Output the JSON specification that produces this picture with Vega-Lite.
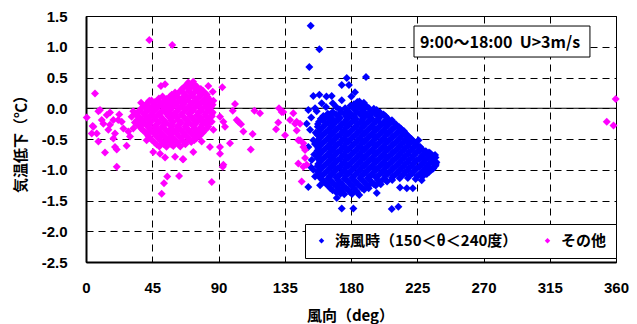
{
"$schema": "https://vega.github.io/schema/vega-lite/v6.json",
"width": 530, "height": 246,
"autosize": "none",
"padding": {"left": 86, "top": 16, "right": 21, "bottom": 62},
"background": "white",
"config": {
 "view": {"stroke": "#000", "strokeWidth": 1},
 "axis": {"grid": true, "gridColor": "#000", "gridDash": [7,5], "gridWidth": 1, "gridOpacity": 1, "ticks": false, "tickSize": 0, "domain": true, "domainColor": "#000", "domainWidth": 2, "labelFont": "Liberation Sans", "labelFontWeight": "bold", "labelFontSize": 15, "labelColor": "#000", "labelFlush": false, "labelOverlap": false, "titleFont": "Noto Sans CJK JP", "titleFontWeight": "bold", "titleFontSize": 15, "titleColor": "#000"},
 "axisX": {"labelPadding": 18, "titleX": 264, "titleY": 53, "titleBaseline": "middle", "titleAlign": "center", "tickCount": 20},
 "axisY": {"labelPadding": 19, "titleX": -66, "titleY": 124, "titleBaseline": "middle", "titleAlign": "center", "titleAngle": -90, "tickCount": 20}
},
"datasets": {
"sea": [
{"d":184.3,"t":0.10},{"d":188.7,"t":0.09},
{"d":179.6,"t":0.04},{"d":185.1,"t":0.03},{"d":190.4,"t":0.035},
{"d":172.5,"t":-0.02},{"d":177.8,"t":-0.035},{"d":182.9,"t":-0.03},{"d":188.3,"t":-0.02},{"d":193.6,"t":-0.04},{"d":197.4,"t":-0.03},
{"d":164.2,"t":-0.09},{"d":169.8,"t":-0.10},{"d":175.3,"t":-0.085},{"d":180.4,"t":-0.10},{"d":185.9,"t":-0.09},{"d":191.2,"t":-0.105},{"d":196.6,"t":-0.095},{"d":202.1,"t":-0.10},
{"d":159.5,"t":-0.17},{"d":162.9,"t":-0.15},{"d":167.2,"t":-0.165},{"d":172.6,"t":-0.155},{"d":178.1,"t":-0.16},{"d":183.4,"t":-0.17},{"d":188.8,"t":-0.155},{"d":194.0,"t":-0.165},{"d":199.5,"t":-0.15},{"d":204.9,"t":-0.165},
{"d":158.3,"t":-0.22},{"d":164.5,"t":-0.23},{"d":169.9,"t":-0.215},{"d":175.2,"t":-0.235},{"d":180.7,"t":-0.22},{"d":186.1,"t":-0.23},{"d":191.5,"t":-0.225},{"d":196.9,"t":-0.215},{"d":202.2,"t":-0.235},{"d":207.6,"t":-0.22},
{"d":157.4,"t":-0.30},{"d":161.9,"t":-0.285},{"d":167.3,"t":-0.29},{"d":172.6,"t":-0.30},{"d":178.0,"t":-0.28},{"d":183.5,"t":-0.295},{"d":188.8,"t":-0.285},{"d":194.3,"t":-0.30},{"d":199.7,"t":-0.29},{"d":205.0,"t":-0.28},{"d":210.4,"t":-0.295},{"d":212.8,"t":-0.31},
{"d":159.1,"t":-0.35},{"d":164.6,"t":-0.36},{"d":170.0,"t":-0.345},{"d":175.3,"t":-0.365},{"d":180.8,"t":-0.35},{"d":186.1,"t":-0.36},{"d":191.6,"t":-0.355},{"d":196.9,"t":-0.345},{"d":202.4,"t":-0.36},{"d":207.7,"t":-0.35},{"d":213.1,"t":-0.365},{"d":215.9,"t":-0.37},
{"d":157.2,"t":-0.43},{"d":161.8,"t":-0.415},{"d":167.2,"t":-0.42},{"d":172.7,"t":-0.43},{"d":178.0,"t":-0.41},{"d":183.4,"t":-0.425},{"d":188.9,"t":-0.415},{"d":194.2,"t":-0.43},{"d":199.6,"t":-0.42},{"d":205.1,"t":-0.41},{"d":210.4,"t":-0.425},{"d":215.8,"t":-0.42},{"d":218.2,"t":-0.44},
{"d":159.0,"t":-0.48},{"d":164.5,"t":-0.49},{"d":169.9,"t":-0.475},{"d":175.4,"t":-0.495},{"d":180.7,"t":-0.48},{"d":186.2,"t":-0.49},{"d":191.5,"t":-0.485},{"d":196.9,"t":-0.475},{"d":202.3,"t":-0.495},{"d":207.8,"t":-0.48},{"d":213.1,"t":-0.49},{"d":218.5,"t":-0.485},{"d":221.0,"t":-0.50},
{"d":157.3,"t":-0.555},{"d":161.8,"t":-0.545},{"d":167.3,"t":-0.55},{"d":172.6,"t":-0.56},{"d":178.1,"t":-0.54},{"d":183.4,"t":-0.555},{"d":188.9,"t":-0.545},{"d":194.2,"t":-0.56},{"d":199.7,"t":-0.55},{"d":205.0,"t":-0.54},{"d":210.5,"t":-0.555},{"d":215.8,"t":-0.55},{"d":221.2,"t":-0.545},{"d":224.0,"t":-0.57},
{"d":159.0,"t":-0.61},{"d":164.6,"t":-0.62},{"d":169.9,"t":-0.605},{"d":175.4,"t":-0.625},{"d":180.7,"t":-0.61},{"d":186.2,"t":-0.62},{"d":191.5,"t":-0.615},{"d":197.0,"t":-0.605},{"d":202.3,"t":-0.625},{"d":207.8,"t":-0.61},{"d":213.1,"t":-0.62},{"d":218.6,"t":-0.615},{"d":223.9,"t":-0.605},{"d":227.0,"t":-0.63},
{"d":157.3,"t":-0.685},{"d":161.8,"t":-0.675},{"d":167.3,"t":-0.68},{"d":172.6,"t":-0.69},{"d":178.1,"t":-0.67},{"d":183.4,"t":-0.685},{"d":188.9,"t":-0.675},{"d":194.2,"t":-0.69},{"d":199.7,"t":-0.68},{"d":205.0,"t":-0.67},{"d":210.5,"t":-0.685},{"d":215.8,"t":-0.68},{"d":221.3,"t":-0.675},{"d":226.6,"t":-0.69},{"d":230.8,"t":-0.70},
{"d":159.0,"t":-0.74},{"d":164.6,"t":-0.75},{"d":169.9,"t":-0.735},{"d":175.4,"t":-0.755},{"d":180.7,"t":-0.74},{"d":186.2,"t":-0.75},{"d":191.5,"t":-0.745},{"d":197.0,"t":-0.735},{"d":202.3,"t":-0.755},{"d":207.8,"t":-0.74},{"d":213.1,"t":-0.75},{"d":218.6,"t":-0.745},{"d":223.9,"t":-0.735},{"d":229.4,"t":-0.755},{"d":234.6,"t":-0.75},
{"d":157.3,"t":-0.815},{"d":161.8,"t":-0.805},{"d":167.3,"t":-0.81},{"d":172.6,"t":-0.82},{"d":178.1,"t":-0.80},{"d":183.4,"t":-0.815},{"d":188.9,"t":-0.805},{"d":194.2,"t":-0.82},{"d":199.7,"t":-0.81},{"d":205.0,"t":-0.80},{"d":210.5,"t":-0.815},{"d":215.8,"t":-0.81},{"d":221.3,"t":-0.805},{"d":226.6,"t":-0.82},{"d":232.1,"t":-0.81},{"d":237.4,"t":-0.80},
{"d":159.0,"t":-0.87},{"d":164.6,"t":-0.88},{"d":169.9,"t":-0.865},{"d":175.4,"t":-0.885},{"d":180.7,"t":-0.87},{"d":186.2,"t":-0.88},{"d":191.5,"t":-0.875},{"d":197.0,"t":-0.865},{"d":202.3,"t":-0.885},{"d":207.8,"t":-0.87},{"d":213.1,"t":-0.88},{"d":218.6,"t":-0.875},{"d":223.9,"t":-0.865},{"d":229.4,"t":-0.885},{"d":234.7,"t":-0.87},{"d":238.0,"t":-0.88},
{"d":157.3,"t":-0.945},{"d":161.8,"t":-0.935},{"d":167.3,"t":-0.94},{"d":172.6,"t":-0.95},{"d":178.1,"t":-0.93},{"d":183.4,"t":-0.945},{"d":188.9,"t":-0.935},{"d":194.2,"t":-0.95},{"d":199.7,"t":-0.94},{"d":205.0,"t":-0.93},{"d":210.5,"t":-0.945},{"d":215.8,"t":-0.94},{"d":221.3,"t":-0.935},{"d":226.6,"t":-0.95},{"d":232.1,"t":-0.94},{"d":237.4,"t":-0.935},
{"d":159.0,"t":-1.00},{"d":164.6,"t":-1.01},{"d":169.9,"t":-0.995},{"d":175.4,"t":-1.015},{"d":180.7,"t":-1.00},{"d":186.2,"t":-1.01},{"d":191.5,"t":-1.005},{"d":197.0,"t":-0.995},{"d":202.3,"t":-1.015},{"d":207.8,"t":-1.00},{"d":213.1,"t":-1.01},{"d":218.6,"t":-1.005},{"d":223.9,"t":-0.995},{"d":229.4,"t":-1.015},{"d":234.7,"t":-1.00},
{"d":158.2,"t":-1.075},{"d":161.8,"t":-1.065},{"d":167.3,"t":-1.07},{"d":172.6,"t":-1.08},{"d":178.1,"t":-1.06},{"d":183.4,"t":-1.075},{"d":188.9,"t":-1.065},{"d":194.2,"t":-1.08},{"d":199.7,"t":-1.07},{"d":205.0,"t":-1.06},{"d":210.5,"t":-1.075},{"d":215.8,"t":-1.07},{"d":221.3,"t":-1.065},{"d":226.6,"t":-1.08},{"d":231.5,"t":-1.07},
{"d":159.0,"t":-1.13},{"d":164.6,"t":-1.14},{"d":169.9,"t":-1.125},{"d":175.4,"t":-1.145},{"d":180.7,"t":-1.13},{"d":186.2,"t":-1.14},{"d":191.5,"t":-1.135},{"d":197.0,"t":-1.125},{"d":202.3,"t":-1.145},{"d":207.8,"t":-1.13},{"d":213.1,"t":-1.14},{"d":218.6,"t":-1.135},{"d":223.9,"t":-1.15},
{"d":161.8,"t":-1.195},{"d":167.3,"t":-1.20},{"d":172.6,"t":-1.21},{"d":178.1,"t":-1.19},{"d":183.4,"t":-1.205},{"d":188.9,"t":-1.195},{"d":194.2,"t":-1.21},{"d":199.7,"t":-1.20},{"d":204.5,"t":-1.19},
{"d":164.6,"t":-1.26},{"d":169.9,"t":-1.255},{"d":175.4,"t":-1.275},{"d":180.7,"t":-1.26},{"d":186.2,"t":-1.27},{"d":191.5,"t":-1.265},{"d":196.8,"t":-1.255},
{"d":167.5,"t":-1.335},{"d":172.6,"t":-1.325},{"d":178.1,"t":-1.33},{"d":183.4,"t":-1.34},{"d":188.9,"t":-1.325},
{"d":172.8,"t":-1.39},{"d":175.4,"t":-1.40},{"d":180.7,"t":-1.395},{"d":185.6,"t":-1.41},
{"d":182.0,"t":0.065},{"d":187.0,"t":0.06},
{"d":176.0,"t":0.0},{"d":181.5,"t":0.005},{"d":187.0,"t":-0.005},{"d":192.2,"t":0.0},{"d":195.5,"t":-0.01},
{"d":167.5,"t":-0.062},{"d":173.0,"t":-0.06},{"d":178.4,"t":-0.065},{"d":183.8,"t":-0.06},{"d":189.2,"t":-0.065},{"d":194.6,"t":-0.06},{"d":199.8,"t":-0.068},
{"d":161.2,"t":-0.128},{"d":166.0,"t":-0.125},{"d":171.4,"t":-0.13},{"d":176.8,"t":-0.128},{"d":182.2,"t":-0.125},{"d":187.6,"t":-0.13},{"d":193.0,"t":-0.128},{"d":198.3,"t":-0.125},{"d":203.5,"t":-0.13},
{"d":160.8,"t":-0.19},{"d":165.8,"t":-0.192},{"d":171.2,"t":-0.188},{"d":176.6,"t":-0.19},{"d":182.0,"t":-0.194},{"d":187.4,"t":-0.19},{"d":192.8,"t":-0.188},{"d":198.2,"t":-0.192},{"d":203.6,"t":-0.19},{"d":207.8,"t":-0.195},
{"d":157.6,"t":-0.258},{"d":162.7,"t":-0.26},{"d":168.1,"t":-0.255},{"d":173.5,"t":-0.258},{"d":178.9,"t":-0.262},{"d":184.3,"t":-0.258},{"d":189.7,"t":-0.255},{"d":195.1,"t":-0.26},{"d":200.5,"t":-0.258},{"d":205.9,"t":-0.255},{"d":210.5,"t":-0.262},
{"d":160.2,"t":-0.322},{"d":165.6,"t":-0.325},{"d":171.0,"t":-0.32},{"d":176.4,"t":-0.322},{"d":181.8,"t":-0.326},{"d":187.2,"t":-0.322},{"d":192.6,"t":-0.32},{"d":198.0,"t":-0.325},{"d":203.4,"t":-0.322},{"d":208.8,"t":-0.32},{"d":213.8,"t":-0.33},
{"d":157.8,"t":-0.388},{"d":162.9,"t":-0.39},{"d":168.3,"t":-0.386},{"d":173.7,"t":-0.388},{"d":179.1,"t":-0.392},{"d":184.5,"t":-0.388},{"d":189.9,"t":-0.386},{"d":195.3,"t":-0.39},{"d":200.7,"t":-0.388},{"d":206.1,"t":-0.386},{"d":211.5,"t":-0.392},{"d":216.5,"t":-0.395},
{"d":160.1,"t":-0.452},{"d":165.5,"t":-0.455},{"d":170.9,"t":-0.45},{"d":176.3,"t":-0.452},{"d":181.7,"t":-0.456},{"d":187.1,"t":-0.452},{"d":192.5,"t":-0.45},{"d":197.9,"t":-0.455},{"d":203.3,"t":-0.452},{"d":208.7,"t":-0.45},{"d":214.1,"t":-0.456},{"d":219.2,"t":-0.46},
{"d":157.7,"t":-0.518},{"d":162.9,"t":-0.52},{"d":168.3,"t":-0.516},{"d":173.7,"t":-0.518},{"d":179.1,"t":-0.522},{"d":184.5,"t":-0.518},{"d":189.9,"t":-0.516},{"d":195.3,"t":-0.52},{"d":200.7,"t":-0.518},{"d":206.1,"t":-0.516},{"d":211.5,"t":-0.522},{"d":216.9,"t":-0.518},{"d":221.9,"t":-0.525},
{"d":160.1,"t":-0.582},{"d":165.5,"t":-0.585},{"d":170.9,"t":-0.58},{"d":176.3,"t":-0.582},{"d":181.7,"t":-0.586},{"d":187.1,"t":-0.582},{"d":192.5,"t":-0.58},{"d":197.9,"t":-0.585},{"d":203.3,"t":-0.582},{"d":208.7,"t":-0.58},{"d":214.1,"t":-0.586},{"d":219.5,"t":-0.582},{"d":224.6,"t":-0.59},
{"d":157.7,"t":-0.648},{"d":162.9,"t":-0.65},{"d":168.3,"t":-0.646},{"d":173.7,"t":-0.648},{"d":179.1,"t":-0.652},{"d":184.5,"t":-0.648},{"d":189.9,"t":-0.646},{"d":195.3,"t":-0.65},{"d":200.7,"t":-0.648},{"d":206.1,"t":-0.646},{"d":211.5,"t":-0.652},{"d":216.9,"t":-0.648},{"d":222.3,"t":-0.646},{"d":227.8,"t":-0.655},
{"d":160.1,"t":-0.712},{"d":165.5,"t":-0.715},{"d":170.9,"t":-0.71},{"d":176.3,"t":-0.712},{"d":181.7,"t":-0.716},{"d":187.1,"t":-0.712},{"d":192.5,"t":-0.71},{"d":197.9,"t":-0.715},{"d":203.3,"t":-0.712},{"d":208.7,"t":-0.71},{"d":214.1,"t":-0.716},{"d":219.5,"t":-0.712},{"d":224.9,"t":-0.71},{"d":230.3,"t":-0.715},{"d":233.0,"t":-0.72},
{"d":157.7,"t":-0.778},{"d":162.9,"t":-0.78},{"d":168.3,"t":-0.776},{"d":173.7,"t":-0.778},{"d":179.1,"t":-0.782},{"d":184.5,"t":-0.778},{"d":189.9,"t":-0.776},{"d":195.3,"t":-0.78},{"d":200.7,"t":-0.778},{"d":206.1,"t":-0.776},{"d":211.5,"t":-0.782},{"d":216.9,"t":-0.778},{"d":222.3,"t":-0.776},{"d":227.7,"t":-0.78},{"d":233.1,"t":-0.778},{"d":236.2,"t":-0.782},
{"d":160.1,"t":-0.842},{"d":165.5,"t":-0.845},{"d":170.9,"t":-0.84},{"d":176.3,"t":-0.842},{"d":181.7,"t":-0.846},{"d":187.1,"t":-0.842},{"d":192.5,"t":-0.84},{"d":197.9,"t":-0.845},{"d":203.3,"t":-0.842},{"d":208.7,"t":-0.84},{"d":214.1,"t":-0.846},{"d":219.5,"t":-0.842},{"d":224.9,"t":-0.84},{"d":230.3,"t":-0.845},{"d":235.7,"t":-0.842},
{"d":157.7,"t":-0.908},{"d":162.9,"t":-0.91},{"d":168.3,"t":-0.906},{"d":173.7,"t":-0.908},{"d":179.1,"t":-0.912},{"d":184.5,"t":-0.908},{"d":189.9,"t":-0.906},{"d":195.3,"t":-0.91},{"d":200.7,"t":-0.908},{"d":206.1,"t":-0.906},{"d":211.5,"t":-0.912},{"d":216.9,"t":-0.908},{"d":222.3,"t":-0.906},{"d":227.7,"t":-0.91},{"d":233.1,"t":-0.908},{"d":237.6,"t":-0.905},
{"d":160.1,"t":-0.972},{"d":165.5,"t":-0.975},{"d":170.9,"t":-0.97},{"d":176.3,"t":-0.972},{"d":181.7,"t":-0.976},{"d":187.1,"t":-0.972},{"d":192.5,"t":-0.97},{"d":197.9,"t":-0.975},{"d":203.3,"t":-0.972},{"d":208.7,"t":-0.97},{"d":214.1,"t":-0.976},{"d":219.5,"t":-0.972},{"d":224.9,"t":-0.97},{"d":230.3,"t":-0.975},{"d":235.7,"t":-0.972},
{"d":157.7,"t":-1.038},{"d":162.9,"t":-1.04},{"d":168.3,"t":-1.036},{"d":173.7,"t":-1.038},{"d":179.1,"t":-1.042},{"d":184.5,"t":-1.038},{"d":189.9,"t":-1.036},{"d":195.3,"t":-1.04},{"d":200.7,"t":-1.038},{"d":206.1,"t":-1.036},{"d":211.5,"t":-1.042},{"d":216.9,"t":-1.038},{"d":222.3,"t":-1.036},{"d":227.7,"t":-1.04},{"d":233.0,"t":-1.038},
{"d":160.1,"t":-1.102},{"d":165.5,"t":-1.105},{"d":170.9,"t":-1.10},{"d":176.3,"t":-1.102},{"d":181.7,"t":-1.106},{"d":187.1,"t":-1.102},{"d":192.5,"t":-1.10},{"d":197.9,"t":-1.105},{"d":203.3,"t":-1.102},{"d":208.7,"t":-1.10},{"d":214.1,"t":-1.106},{"d":219.5,"t":-1.102},{"d":224.9,"t":-1.10},{"d":228.8,"t":-1.105},
{"d":160.5,"t":-1.168},{"d":165.8,"t":-1.17},{"d":171.2,"t":-1.166},{"d":176.6,"t":-1.168},{"d":182.0,"t":-1.172},{"d":187.4,"t":-1.168},{"d":192.8,"t":-1.166},{"d":198.2,"t":-1.17},{"d":203.6,"t":-1.168},{"d":208.0,"t":-1.165},
{"d":163.2,"t":-1.232},{"d":168.4,"t":-1.235},{"d":173.8,"t":-1.23},{"d":179.2,"t":-1.232},{"d":184.6,"t":-1.236},{"d":190.0,"t":-1.232},{"d":195.4,"t":-1.23},{"d":200.2,"t":-1.235},
{"d":166.0,"t":-1.30},{"d":171.2,"t":-1.298},{"d":176.6,"t":-1.302},{"d":182.0,"t":-1.30},{"d":187.4,"t":-1.298},{"d":192.0,"t":-1.302},
{"d":170.0,"t":-1.365},{"d":174.0,"t":-1.362},{"d":179.4,"t":-1.366},{"d":184.2,"t":-1.364},
{"d":152.6,"t":1.34},{"d":158.5,"t":0.96},{"d":151.7,"t":0.67},{"d":190.2,"t":0.51},{"d":177.1,"t":0.49},{"d":173.7,"t":0.38},{"d":178.6,"t":0.38},{"d":182.7,"t":0.26},
{"d":154.4,"t":0.20},{"d":158.5,"t":0.22},{"d":163.3,"t":0.19},{"d":166.9,"t":0.20},{"d":160.1,"t":0.08},{"d":167.6,"t":0.08},{"d":173.7,"t":0.13},{"d":180.2,"t":0.19},{"d":185.7,"t":0.11},
{"d":151.0,"t":-0.03},{"d":155.6,"t":0.0},{"d":163.5,"t":-0.13},{"d":165.8,"t":-0.10},{"d":156.7,"t":-0.05},{"d":163.0,"t":0.02},{"d":170.0,"t":0.02},
{"d":149.9,"t":-0.25},{"d":152.2,"t":-0.35},{"d":154.4,"t":-0.52},{"d":151.0,"t":-0.63},{"d":153.3,"t":-0.84},{"d":154.4,"t":-1.0},{"d":155.6,"t":-1.11},{"d":151.0,"t":-1.28},{"d":159.0,"t":-1.25},
{"d":153.0,"t":-0.15},{"d":155.0,"t":-0.75},{"d":152.5,"t":-0.95},{"d":156.0,"t":-0.40},{"d":155.5,"t":-0.58},
{"d":170.3,"t":-1.46},{"d":173.7,"t":-1.63},{"d":181.6,"t":-1.63},{"d":197.5,"t":-1.38},{"d":207.7,"t":-1.64},{"d":212.2,"t":-1.60},
{"d":213.3,"t":-1.29},{"d":217.9,"t":-1.30},{"d":222.0,"t":-1.30},{"d":228.0,"t":-1.17},{"d":231.4,"t":-1.0},{"d":235.9,"t":-0.98},
{"d":233.7,"t":-0.73},{"d":237.1,"t":-0.76},{"d":226.9,"t":-0.65},{"d":228.0,"t":-0.79},{"d":225.8,"t":-0.52},{"d":216.7,"t":-0.41},{"d":220.1,"t":-0.54},{"d":215.6,"t":-0.38}
],
"oth": [
{"d":69.5,"t":0.42},{"d":72.8,"t":0.43},
{"d":67.0,"t":0.35},{"d":71.2,"t":0.36},{"d":75.6,"t":0.345},
{"d":64.3,"t":0.29},{"d":69.7,"t":0.28},{"d":75.1,"t":0.295},{"d":79.4,"t":0.285},
{"d":58.2,"t":0.22},{"d":62.0,"t":0.23},{"d":67.4,"t":0.215},{"d":72.8,"t":0.235},{"d":78.2,"t":0.22},{"d":82.0,"t":0.225},
{"d":49.5,"t":0.16},{"d":54.7,"t":0.15},{"d":59.3,"t":0.165},{"d":64.7,"t":0.155},{"d":70.1,"t":0.17},{"d":75.5,"t":0.16},{"d":80.9,"t":0.15},
{"d":42.0,"t":0.09},{"d":46.8,"t":0.10},{"d":52.0,"t":0.085},{"d":57.4,"t":0.10},{"d":62.0,"t":0.09},{"d":67.4,"t":0.105},{"d":72.8,"t":0.095},{"d":78.2,"t":0.085},{"d":83.6,"t":0.10},
{"d":39.8,"t":0.03},{"d":44.9,"t":0.02},{"d":49.3,"t":0.035},{"d":54.7,"t":0.025},{"d":59.3,"t":0.04},{"d":64.7,"t":0.03},{"d":70.1,"t":0.02},{"d":75.5,"t":0.035},{"d":80.9,"t":0.03},{"d":85.0,"t":0.02},
{"d":36.5,"t":-0.04},{"d":42.0,"t":-0.03},{"d":46.6,"t":-0.035},{"d":52.0,"t":-0.045},{"d":57.4,"t":-0.03},{"d":62.0,"t":-0.04},{"d":67.4,"t":-0.025},{"d":72.8,"t":-0.035},{"d":78.2,"t":-0.045},{"d":83.6,"t":-0.03},
{"d":34.0,"t":-0.10},{"d":39.2,"t":-0.095},{"d":44.0,"t":-0.105},{"d":49.3,"t":-0.10},{"d":54.7,"t":-0.09},{"d":59.3,"t":-0.105},{"d":64.7,"t":-0.10},{"d":70.1,"t":-0.095},{"d":75.5,"t":-0.11},{"d":80.9,"t":-0.10},{"d":85.5,"t":-0.09},
{"d":36.8,"t":-0.165},{"d":41.5,"t":-0.17},{"d":46.6,"t":-0.16},{"d":52.0,"t":-0.175},{"d":57.4,"t":-0.165},{"d":62.0,"t":-0.155},{"d":67.4,"t":-0.17},{"d":72.8,"t":-0.165},{"d":78.2,"t":-0.16},{"d":83.2,"t":-0.175},
{"d":33.2,"t":-0.23},{"d":39.2,"t":-0.235},{"d":44.0,"t":-0.225},{"d":49.3,"t":-0.23},{"d":54.7,"t":-0.24},{"d":59.3,"t":-0.225},{"d":64.7,"t":-0.23},{"d":70.1,"t":-0.235},{"d":75.5,"t":-0.22},{"d":80.4,"t":-0.23},
{"d":36.5,"t":-0.295},{"d":41.5,"t":-0.29},{"d":46.6,"t":-0.30},{"d":52.0,"t":-0.295},{"d":57.4,"t":-0.285},{"d":62.0,"t":-0.30},{"d":67.4,"t":-0.295},{"d":72.8,"t":-0.29},{"d":78.0,"t":-0.305},{"d":83.0,"t":-0.295},
{"d":38.8,"t":-0.36},{"d":44.0,"t":-0.365},{"d":49.3,"t":-0.355},{"d":54.7,"t":-0.36},{"d":59.3,"t":-0.37},{"d":64.7,"t":-0.355},{"d":70.1,"t":-0.36},{"d":75.5,"t":-0.365},{"d":80.0,"t":-0.35},
{"d":41.5,"t":-0.425},{"d":46.6,"t":-0.42},{"d":52.0,"t":-0.43},{"d":57.4,"t":-0.425},{"d":62.0,"t":-0.415},{"d":67.4,"t":-0.43},{"d":72.8,"t":-0.425},{"d":77.5,"t":-0.42},
{"d":43.8,"t":-0.49},{"d":49.3,"t":-0.485},{"d":54.7,"t":-0.495},{"d":59.3,"t":-0.49},{"d":64.7,"t":-0.48},{"d":70.1,"t":-0.495},{"d":74.8,"t":-0.49},
{"d":46.6,"t":-0.555},{"d":52.0,"t":-0.56},{"d":57.4,"t":-0.55},{"d":62.0,"t":-0.555},{"d":67.4,"t":-0.565},{"d":71.5,"t":-0.55},
{"d":49.8,"t":-0.62},{"d":54.7,"t":-0.625},{"d":59.3,"t":-0.615},{"d":64.0,"t":-0.62},
{"d":68.5,"t":0.385},{"d":73.5,"t":0.39},
{"d":65.5,"t":0.32},{"d":70.0,"t":0.318},{"d":74.0,"t":0.322},{"d":78.0,"t":0.315},
{"d":60.5,"t":0.255},{"d":66.0,"t":0.252},{"d":71.0,"t":0.258},{"d":76.5,"t":0.255},{"d":80.5,"t":0.25},
{"d":52.0,"t":0.19},{"d":57.0,"t":0.192},{"d":62.0,"t":0.188},{"d":67.0,"t":0.19},{"d":72.5,"t":0.194},{"d":77.5,"t":0.19},{"d":82.5,"t":0.186},
{"d":44.5,"t":0.125},{"d":49.0,"t":0.128},{"d":54.0,"t":0.122},{"d":59.5,"t":0.125},{"d":64.5,"t":0.128},{"d":69.5,"t":0.125},{"d":75.0,"t":0.122},{"d":80.0,"t":0.125},{"d":84.5,"t":0.13},
{"d":41.0,"t":0.06},{"d":46.0,"t":0.062},{"d":51.0,"t":0.058},{"d":56.0,"t":0.06},{"d":61.0,"t":0.064},{"d":66.0,"t":0.06},{"d":71.0,"t":0.058},{"d":76.5,"t":0.062},{"d":81.5,"t":0.06},{"d":86.0,"t":0.055},
{"d":37.5,"t":-0.005},{"d":43.0,"t":-0.002},{"d":48.0,"t":-0.008},{"d":53.0,"t":-0.005},{"d":58.0,"t":-0.002},{"d":63.0,"t":-0.006},{"d":68.5,"t":-0.005},{"d":73.5,"t":-0.002},{"d":78.5,"t":-0.008},{"d":83.0,"t":-0.005},
{"d":35.0,"t":-0.068},{"d":40.5,"t":-0.065},{"d":45.5,"t":-0.07},{"d":50.5,"t":-0.068},{"d":56.0,"t":-0.065},{"d":61.0,"t":-0.07},{"d":66.0,"t":-0.068},{"d":71.0,"t":-0.065},{"d":76.5,"t":-0.07},{"d":81.5,"t":-0.068},{"d":86.0,"t":-0.065},
{"d":35.5,"t":-0.132},{"d":40.5,"t":-0.13},{"d":45.5,"t":-0.135},{"d":50.5,"t":-0.132},{"d":56.0,"t":-0.13},{"d":61.0,"t":-0.135},{"d":66.0,"t":-0.132},{"d":71.0,"t":-0.13},{"d":76.5,"t":-0.135},{"d":81.5,"t":-0.132},{"d":85.5,"t":-0.13},
{"d":34.5,"t":-0.198},{"d":38.0,"t":-0.195},{"d":43.0,"t":-0.2},{"d":48.0,"t":-0.198},{"d":53.0,"t":-0.195},{"d":58.0,"t":-0.2},{"d":63.0,"t":-0.198},{"d":68.5,"t":-0.195},{"d":73.5,"t":-0.2},{"d":78.5,"t":-0.198},{"d":82.0,"t":-0.195},
{"d":34.5,"t":-0.262},{"d":38.0,"t":-0.26},{"d":43.0,"t":-0.265},{"d":48.0,"t":-0.262},{"d":53.0,"t":-0.26},{"d":58.5,"t":-0.265},{"d":63.5,"t":-0.262},{"d":68.5,"t":-0.26},{"d":74.0,"t":-0.265},{"d":79.0,"t":-0.262},{"d":82.5,"t":-0.26},
{"d":37.5,"t":-0.328},{"d":43.0,"t":-0.325},{"d":48.0,"t":-0.33},{"d":53.0,"t":-0.328},{"d":58.0,"t":-0.325},{"d":63.0,"t":-0.33},{"d":68.5,"t":-0.328},{"d":73.5,"t":-0.325},{"d":78.5,"t":-0.33},{"d":82.0,"t":-0.328},
{"d":40.5,"t":-0.392},{"d":45.5,"t":-0.39},{"d":50.5,"t":-0.395},{"d":55.5,"t":-0.392},{"d":60.5,"t":-0.39},{"d":66.0,"t":-0.395},{"d":71.0,"t":-0.392},{"d":76.0,"t":-0.39},{"d":79.5,"t":-0.395},
{"d":42.5,"t":-0.458},{"d":48.0,"t":-0.455},{"d":53.0,"t":-0.46},{"d":58.0,"t":-0.458},{"d":63.0,"t":-0.455},{"d":68.5,"t":-0.46},{"d":73.5,"t":-0.458},{"d":77.0,"t":-0.455},
{"d":45.0,"t":-0.522},{"d":50.5,"t":-0.52},{"d":55.5,"t":-0.525},{"d":60.5,"t":-0.522},{"d":65.5,"t":-0.52},{"d":70.5,"t":-0.525},{"d":73.5,"t":-0.522},
{"d":48.0,"t":-0.588},{"d":53.0,"t":-0.585},{"d":58.0,"t":-0.59},{"d":63.0,"t":-0.588},{"d":67.5,"t":-0.585},
{"d":43.0,"t":1.11},{"d":58.6,"t":1.03},{"d":6.1,"t":0.24},{"d":50.9,"t":0.36},{"d":53.7,"t":0.39},{"d":83.1,"t":0.36},{"d":86.1,"t":0.27},{"d":92.6,"t":0.34},
{"d":37.4,"t":0.09},{"d":43.0,"t":0.12},{"d":0.5,"t":-0.15},{"d":8.4,"t":-0.05},{"d":16.3,"t":-0.07},{"d":22.6,"t":-0.10},{"d":32.1,"t":-0.05},
{"d":101.2,"t":0.07},{"d":99.7,"t":-0.04},{"d":114.4,"t":-0.04},{"d":118.2,"t":-0.08},{"d":131.1,"t":0.0},{"d":102.4,"t":-0.19},{"d":105.3,"t":-0.26},{"d":106.9,"t":-0.38},{"d":113.2,"t":-0.42},{"d":129.1,"t":-0.34},{"d":111.9,"t":-0.67},
{"d":8.4,"t":-0.54},{"d":12.9,"t":-0.72},{"d":20.9,"t":-0.95},{"d":27.6,"t":-0.61},{"d":45.7,"t":-0.71},{"d":50.3,"t":-0.74},{"d":53.7,"t":-0.80},{"d":60.5,"t":-0.79},{"d":65.7,"t":-0.83},{"d":72.9,"t":-0.71},
{"d":91.0,"t":-0.63},{"d":91.0,"t":-0.74},{"d":93.3,"t":-0.92},{"d":85.4,"t":-1.20},{"d":55.2,"t":-1.11},{"d":53.0,"t":-1.22},{"d":51.4,"t":-1.39},{"d":63.2,"t":-1.10},
{"d":5.0,"t":-0.30},{"d":3.9,"t":-0.41},{"d":11.8,"t":-0.25},{"d":15.2,"t":-0.35},{"d":18.6,"t":-0.49},{"d":25.4,"t":-0.33},{"d":29.9,"t":-0.46},{"d":24.3,"t":-0.22},{"d":20.9,"t":-0.67},
{"d":10.7,"t":-0.19},{"d":18.6,"t":-0.19},{"d":32.1,"t":-0.33},{"d":35.5,"t":-0.22},{"d":4.5,"t":-0.29},{"d":7.3,"t":-0.41},{"d":9.5,"t":-0.03},{"d":14.1,"t":-0.11},{"d":16.3,"t":-0.27},{"d":19.7,"t":-0.41},{"d":21.9,"t":-0.19},{"d":28.7,"t":-0.38},{"d":31.0,"t":-0.14},{"d":34.4,"t":-0.25},{"d":19.7,"t":-0.63},{"d":41.2,"t":-0.52},
{"d":86.5,"t":0.12},{"d":84.2,"t":-0.03},{"d":85.4,"t":-0.22},{"d":86.5,"t":-0.35},{"d":78.6,"t":-0.54},{"d":84.2,"t":-0.63},{"d":66.1,"t":-0.83},{"d":91.0,"t":-0.14},{"d":93.3,"t":-0.22},{"d":94.4,"t":-0.30},{"d":92.9,"t":-0.95},{"d":103.5,"t":-0.22},{"d":97.8,"t":-0.57},
{"d":130.6,"t":-0.23},{"d":132.9,"t":-0.06},{"d":135.2,"t":-0.44},{"d":359.8,"t":0.15},{"d":353.7,"t":-0.22},{"d":358.3,"t":-0.28},
{"d":134.0,"t":-0.06},{"d":138.6,"t":-0.19},{"d":140.8,"t":-0.08},{"d":142.0,"t":-0.25},{"d":143.1,"t":-0.36},{"d":145.4,"t":-0.52},{"d":147.6,"t":-0.57},{"d":148.8,"t":-0.68},{"d":144.2,"t":-0.90},{"d":147.6,"t":-0.95},{"d":146.5,"t":-1.19},
{"d":143.1,"t":-0.22},{"d":145.4,"t":-0.25},{"d":144.2,"t":-0.52},{"d":147.6,"t":-0.63},{"d":148.8,"t":-0.81},{"d":149.9,"t":-0.92}
]
},
"layer": [
 {"data": {"values": [{}]}, "mark": {"type": "rule", "color": "#000", "strokeWidth": 1}, "encoding": {"y": {"datum": 0, "type": "quantitative", "title": "気温低下（℃）"}}},
 {"data": {"name": "sea"}, "mark": {"type": "point", "shape": "diamond", "filled": true, "size": 64, "opacity": 1, "strokeWidth": 0},
  "encoding": {
   "x": {"field": "d", "type": "quantitative", "title": "風向（deg）", "scale": {"domain": [0, 360], "nice": false, "zero": false}, "axis": {"values": [0,45,90,135,180,225,270,315,360]}},
   "y": {"field": "t", "type": "quantitative", "title": "気温低下（℃）", "scale": {"domain": [-2.5, 1.5], "nice": false, "zero": false}, "axis": {"values": [-2.5,-2,-1.5,-1,-0.5,0,0.5,1,1.5], "labelExpr": "datum.value < 0 ? '-' + format(-datum.value, '.1f') : format(datum.value, '.1f')"}},
   "color": {"datum": "海風時（150＜θ＜240度）", "type": "nominal", "scale": {"domain": ["海風時（150＜θ＜240度）", "その他"], "range": ["#0000FF", "#FF00FF"]},
     "legend": {"title": null, "orient": "none", "legendX": 219, "legendY": 208, "direction": "horizontal", "symbolType": "diamond", "symbolSize": 30, "symbolStrokeWidth": 0, "labelFont": "Noto Sans CJK JP", "labelFontWeight": "bold", "labelFontSize": 15, "labelColor": "#000", "labelLimit": 400, "labelOffset": 6, "columnPadding": 22, "padding": 9, "strokeColor": "#000", "fillColor": "#fff"}}
  }},
 {"data": {"name": "oth"}, "mark": {"type": "point", "shape": "diamond", "filled": true, "size": 64, "opacity": 1, "strokeWidth": 0},
  "encoding": {
   "x": {"field": "d", "type": "quantitative", "title": "風向（deg）"},
   "y": {"field": "t", "type": "quantitative", "title": "気温低下（℃）"},
   "color": {"datum": "その他", "type": "nominal"}
  }},
 {"data": {"values": [{}]}, "mark": {"type": "rect", "fill": "#fff", "stroke": "#000", "strokeWidth": 1},
  "encoding": {"x": {"datum": 222.8, "type": "quantitative", "title": "風向（deg）"}, "x2": {"datum": 342.3}, "y": {"datum": 1.337, "type": "quantitative", "title": "気温低下（℃）"}, "y2": {"datum": 0.833}}},
 {"data": {"values": [{"label": "9:00～18:00\u00a0\u00a0U>3m/s"}]}, "mark": {"type": "text", "font": "Noto Sans CJK JP", "fontWeight": "bold", "fontSize": 16, "color": "#000", "align": "center", "baseline": "middle"},
  "encoding": {"x": {"datum": 281.2, "type": "quantitative", "title": "風向（deg）"}, "y": {"datum": 1.066, "type": "quantitative", "title": "気温低下（℃）"}, "text": {"field": "label"}}}
]
}
